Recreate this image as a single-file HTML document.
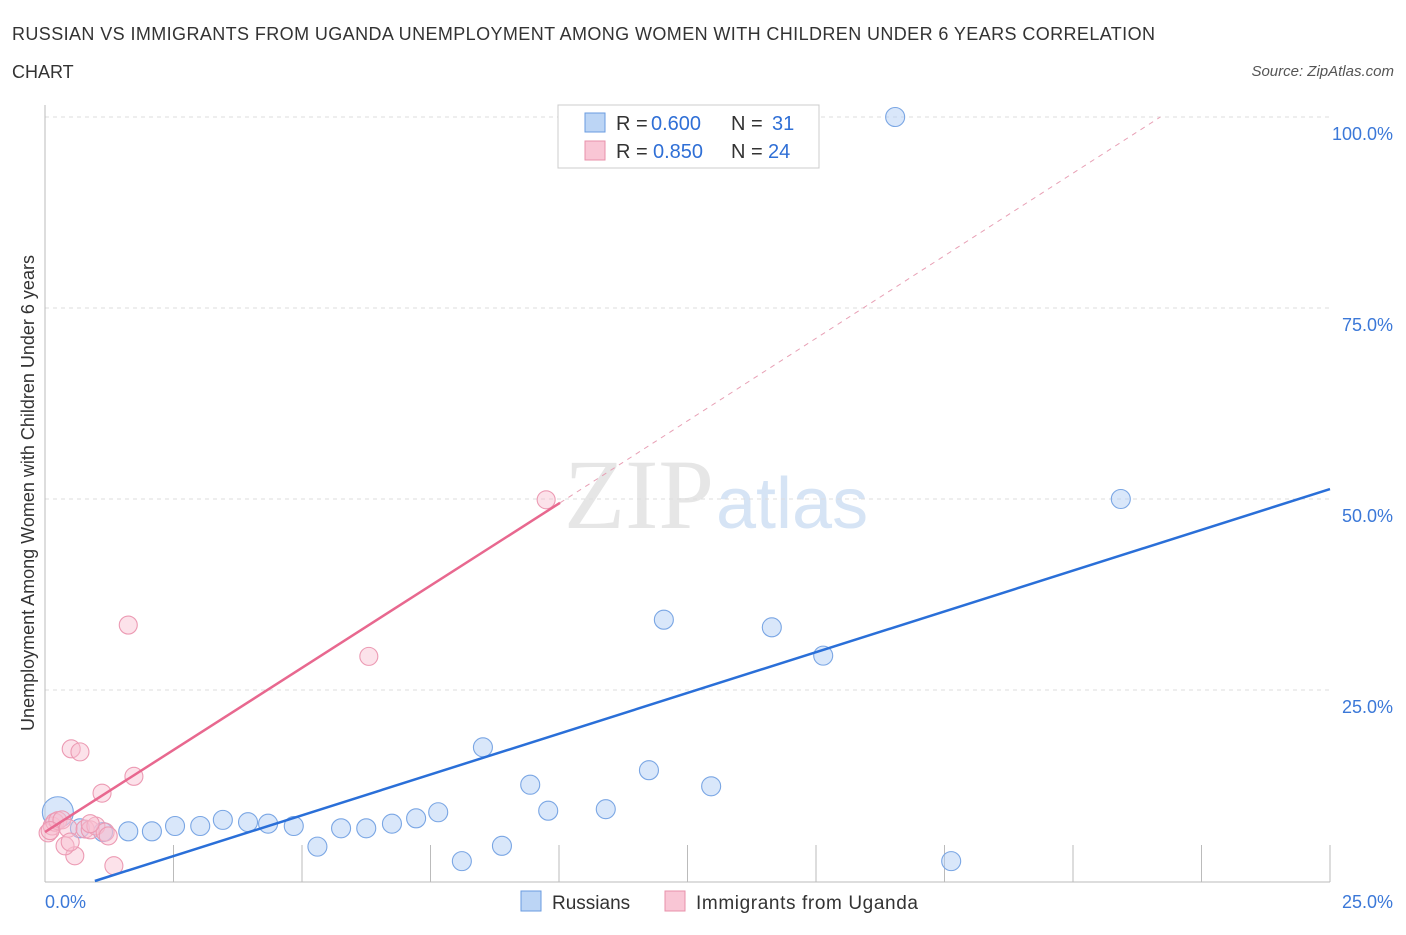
<!DOCTYPE html>
<html><head><meta charset="utf-8"><style>
body{margin:0;background:#fff;font-family:"Liberation Sans",sans-serif;}
</style></head><body>
<svg width="1406" height="930" xmlns="http://www.w3.org/2000/svg" font-family="Liberation Sans, sans-serif">
<text x="12" y="40" font-size="18" fill="#333" textLength="1143">RUSSIAN VS IMMIGRANTS FROM UGANDA UNEMPLOYMENT AMONG WOMEN WITH CHILDREN UNDER 6 YEARS CORRELATION</text>
<text x="12" y="78" font-size="18" fill="#333">CHART</text>
<text x="1394" y="76" font-size="15" fill="#555" font-style="italic" text-anchor="end">Source: ZipAtlas.com</text>
<text x="714" y="528" font-size="100" fill="#e6e6e6" text-anchor="end" font-family="Liberation Serif, serif">ZIP</text>
<text x="716" y="528" font-size="72" fill="#d6e4f5">atlas</text>
<g id="grid"></g><g id="axes"></g><g id="marks"></g>
<text transform="translate(34,493) rotate(-90)" font-size="18" fill="#333" text-anchor="middle">Unemployment Among Women with Children Under 6 years</text>
<g>
<rect x="558" y="105" width="261" height="63" fill="#fff" stroke="#ccc"/>
<rect x="585" y="113" width="20" height="19" fill="#bcd5f5" stroke="#6a9be0"/>
<text x="616" y="130" font-size="20" fill="#333">R =</text>
<text x="651" y="130" font-size="20" fill="#2f6fd6">0.600</text>
<text x="731" y="130" font-size="20" fill="#333">N =</text>
<text x="772" y="130" font-size="20" fill="#2f6fd6">31</text>
<rect x="585" y="141" width="20" height="19" fill="#f9c6d5" stroke="#e890aa"/>
<text x="616" y="158" font-size="20" fill="#333">R =</text>
<text x="653" y="158" font-size="20" fill="#2f6fd6">0.850</text>
<text x="731" y="158" font-size="20" fill="#333">N =</text>
<text x="768" y="158" font-size="20" fill="#2f6fd6">24</text>
</g>
<g>
<rect x="521" y="891" width="20" height="20" fill="#bcd5f5" stroke="#6a9be0"/>
<text x="552" y="909" font-size="19" fill="#333">Russians</text>
<rect x="665" y="891" width="20" height="20" fill="#f9c6d5" stroke="#e890aa"/>
<text x="696" y="909" font-size="19" fill="#333" textLength="222">Immigrants from Uganda</text>
</g>
</svg>
<script>
const xTicks=[0,2.5,5,7.5,10,12.5,15,17.5,20,22.5,25];
const yTicks=[25,50,75,100];
const yTickLabels=["25.0%","50.0%","75.0%","100.0%"];
const russX=[0.25,0.68,1.13,1.62,2.08,2.53,3.02,3.46,3.95,4.34,4.84,5.30,5.76,6.25,6.75,7.22,7.65,8.11,8.52,8.89,9.44,9.79,10.91,11.75,12.04,12.96,14.14,15.14,16.54,17.63,20.93];
const russY=[9.0,6.9,6.4,6.5,6.5,7.2,7.2,8.0,7.7,7.5,7.2,4.5,6.9,6.9,7.5,8.2,9.0,2.6,17.5,4.6,12.6,9.2,9.4,14.5,34.2,12.4,33.2,29.5,100,2.6,50];
const russR=[16,10,10,10,10,10,10,10,10,10,10,10,10,10,10,10,10,10,10,10,10,10,10,10,10,10,10,10,10,10,10];
const ugX=[0.06,0.14,0.19,0.25,0.33,0.45,0.51,0.58,0.68,0.78,0.88,0.99,1.11,1.17,1.23,1.34,1.62,1.73,6.30,9.75,0.10,0.39,0.49,0.88];
const ugY=[6.3,7.2,7.7,7.9,8.0,6.9,17.3,3.3,16.9,6.8,6.7,7.2,11.5,6.4,5.9,2.0,33.5,13.7,29.4,49.9,6.6,4.6,5.1,7.5];
const blueLine=[[0.97,0],[25,51.3]];
const pinkLine=[[0,6.4],[10.02,49.5]];
const pinkDash=[[10.02,49.5],[21.7,100]];
const NS="http://www.w3.org/2000/svg";
const X=v=>45+v*51.4, Y=v=>881-v*7.64;
function mk(t,a,p){const e=document.createElementNS(NS,t);for(const k in a)e.setAttribute(k,a[k]);document.getElementById(p).appendChild(e);return e;}
yTicks.forEach((t,i)=>{
 const g=mk('line',{x1:45,x2:1330,y1:Y(t),y2:Y(t),stroke:'#ddd','stroke-dasharray':'4,4'},'grid');
 
 
 const l=mk('text',{x:1393,y:Y(t)+23,'font-size':18,fill:'#3b78d8','text-anchor':'end'},'axes');l.textContent=yTickLabels[i];
 
 
});
let a=mk('line',{x1:45,x2:45,y1:105,y2:882,stroke:'#bbb'},'axes');


a=mk('line',{x1:45,x2:1330,y1:882,y2:882,stroke:'#bbb'},'axes');


xTicks.forEach(t=>{const e=mk('line',{x1:X(t),x2:X(t),y1:845,y2:882,stroke:'#bbb'},'axes');
 
 });
let tl=mk('text',{x:45,y:908,'font-size':18,fill:'#3b78d8'},'axes');tl.textContent='0.0%';


tl=mk('text',{x:1393,y:908,'font-size':18,fill:'#3b78d8','text-anchor':'end'},'axes');tl.textContent='25.0%';


russX.forEach((x,i)=>{const c=mk('circle',{cx:X(x),cy:Y(russY[i]),r:russR[i]-0.5,fill:'rgba(180,208,245,0.5)',stroke:'#7aa6e4','stroke-width':1.1},'marks');
 
 });
ugX.forEach((x,i)=>{const c=mk('circle',{cx:X(x),cy:Y(ugY[i]),r:9,fill:'rgba(248,190,208,0.45)',stroke:'#ec9ab3','stroke-width':1.1},'marks');
 
 });
function ln(p,st,w,da,name){const e=mk('line',{x1:X(p[0][0]),y1:Y(p[0][1]),x2:X(p[1][0]),y2:Y(p[1][1]),stroke:st,'stroke-width':w},'marks');if(da)e.setAttribute('stroke-dasharray',da);
 
 }
ln(blueLine,'#2a6fd8',2.5,null,'russians-trend-line');
ln(pinkLine,'#e8688f',2.5,null,'uganda-trend-line');
ln(pinkDash,'#e8a0b5',1,'5,5','uganda-trend-extension');
</script>
</body></html>
